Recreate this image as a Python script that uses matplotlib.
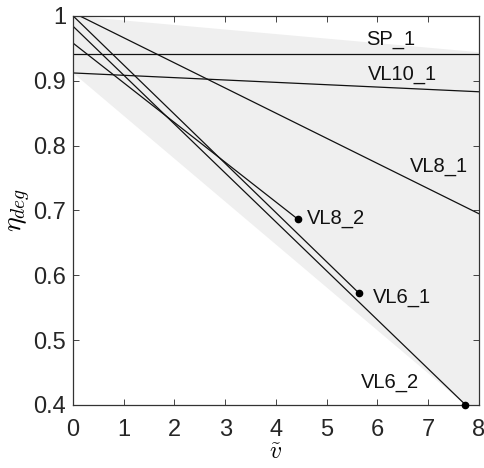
import numpy as np
import matplotlib as mpl
mpl.use('Agg')
from matplotlib import pyplot as plt

plt.rcParams['font.family'] = ['Liberation Sans', 'DejaVu Sans']
plt.rcParams['mathtext.fontset'] = 'cm'

# line end points
names = ['SP_1', 'VL10_1', 'VL8_1', 'VL8_2', 'VL6_1', 'VL6_2']
x_start = [0.0, 0.0, 0.13, 0.0, 0.0, 0.0]
y_start = [0.942, 0.912, 1.0, 0.958, 1.0, 0.984]
x_end = [8.0, 8.0, 8.0, 4.44, 5.63, 7.74]
y_end = [0.942, 0.883, 0.695, 0.686, 0.573, 0.4]
end_dot = [False, False, False, True, True, True]

# label anchor (left edge, vertical centre)
label_x = [5.78, 5.81, 6.65, 4.61, 5.92, 5.67]
label_y = [0.963, 0.910, 0.767, 0.687, 0.565, 0.434]

# grey envelope
shade_x = [0, 8, 8, 7.74, 0]
shade_y = [1.0, 0.944, 0.4, 0.4, 0.912]

xticks = [0, 1, 2, 3, 4, 5, 6, 7, 8]
yticks = [0.4, 0.5, 0.6, 0.7, 0.8, 0.9, 1.0]
ytick_labels = ['0.4', '0.5', '0.6', '0.7', '0.8', '0.9', '1']

fig = plt.figure(figsize=(4.84, 4.68), dpi=100)
ax = fig.add_axes([0.151, 0.135, 0.838, 0.831])

ax.fill(shade_x, shade_y, color='#efefef', lw=0, zorder=0)

for i in range(len(names)):
    ax.plot([x_start[i], x_end[i]], [y_start[i], y_end[i]], color='#111111', lw=0.9, zorder=2)
    if end_dot[i]:
        ax.plot(x_end[i], y_end[i], 'o', color='black', ms=4.5, zorder=3, clip_on=False)
    ax.text(label_x[i], label_y[i], names[i], fontsize=14.5, va='center', ha='left', color='#111111')

ax.set_xlim(0, 8)
ax.set_ylim(0.4, 1.0)
ax.set_xticks(xticks)
ax.set_yticks(yticks)
ax.set_yticklabels(ytick_labels)
ax.tick_params(direction='in', length=4, width=0.6, top=True, right=True,
               labelsize=17, colors='#262626')
ax.tick_params(axis='x', pad=10)
ax.tick_params(axis='y', pad=5)
for s in ax.spines.values():
    s.set_color('#333333')
    s.set_linewidth(0.9)

ax.set_xlabel(r'$\tilde{v}$', fontsize=17, labelpad=1)
ax.set_ylabel(r'$\eta_{deg}$', fontsize=20, labelpad=0)

fig.savefig('out.png', dpi=100)
